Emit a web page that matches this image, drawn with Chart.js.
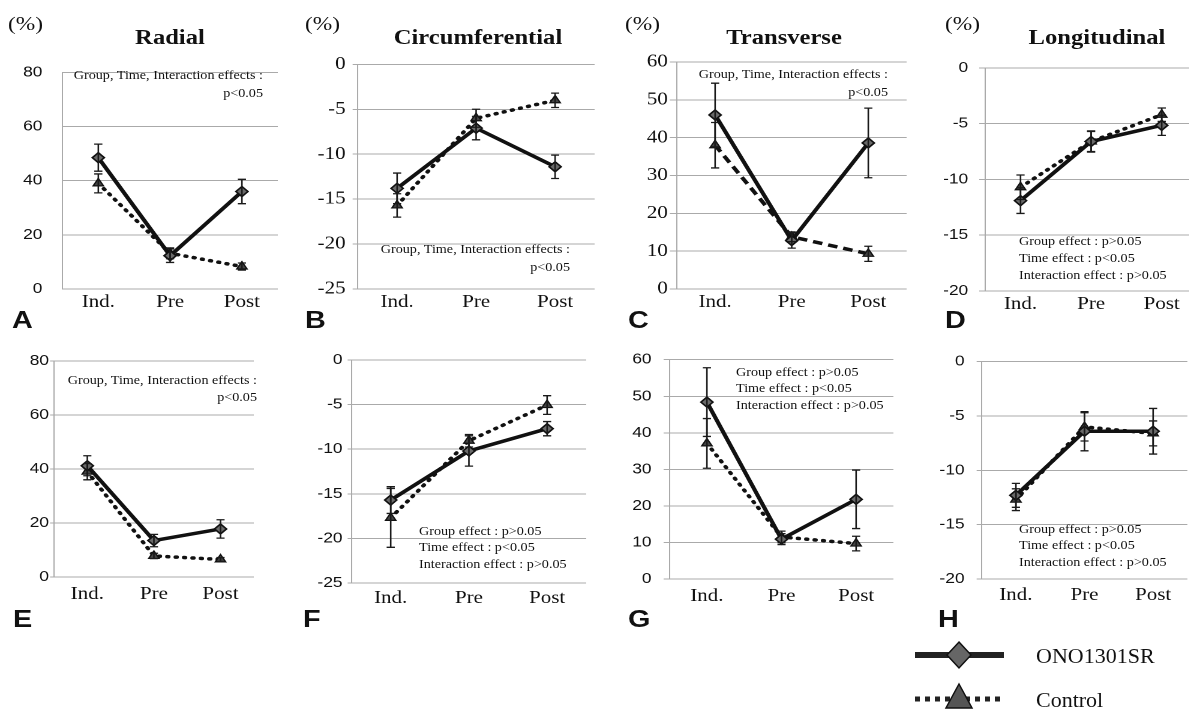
<!DOCTYPE html>
<html><head><meta charset="utf-8">
<script src="https://cdn.jsdelivr.net/npm/chart.js@4.4.1/dist/chart.umd.min.js"></script>
<style>
html,body{margin:0;padding:0;background:#fff;overflow:hidden;width:1189px;height:710px;position:relative;}
#stage{position:absolute;left:0;top:0;width:991px;height:710px;transform:scaleX(1.2);transform-origin:0 0;}
.t{position:absolute;white-space:pre;color:#111;font-family:"Liberation Serif","Times New Roman",serif;}
canvas{position:absolute;}
</style></head><body><div id="stage"></div>
<svg id="legendSvg" width="1189" height="710" style="position:absolute;left:0;top:0;pointer-events:none"></svg>
<script>
// ---------------- DATA ----------------
const categories = ['Ind.', 'Pre', 'Post'];

const radialTicks = [0, 20, 40, 60, 80];
const circTicks = [-25, -20, -15, -10, -5, 0];
const transTicks = [0, 10, 20, 30, 40, 50, 60];
const longTicks = [-20, -15, -10, -5, 0];

// A  Radial (upper)
const radialUpperOno = [48.5, 12.3, 36.0];
const radialUpperOnoErr = [5.0, 2.5, 4.5];
const radialUpperCtrl = [39.0, 13.2, 8.3];
const radialUpperCtrlErr = [3.5, 2.0, 1.3];
// B  Circumferential (upper)
const circUpperOno = [-13.8, -7.1, -11.4];
const circUpperOnoErr = [1.7, 1.3, 1.3];
const circUpperCtrl = [-15.7, -6.0, -4.0];
const circUpperCtrlErr = [1.3, 1.0, 0.8];
// C  Transverse (upper)
const transUpperOno = [46.0, 12.8, 38.6];
const transUpperOnoErr = [8.4, 2.0, 9.2];
const transUpperCtrl = [38.0, 13.8, 9.3];
const transUpperCtrlErr = [6.0, 1.3, 2.0];
// D  Longitudinal (upper)
const longUpperOno = [-11.9, -6.6, -5.15];
const longUpperOnoErr = [1.15, 0.95, 0.9];
const longUpperCtrl = [-10.7, -6.6, -4.2];
const longUpperCtrlErr = [1.1, 0.9, 0.6];
// E  Radial (lower)
const radialLowerOno = [41.2, 13.5, 17.8];
const radialLowerOnoErr = [3.7, 2.3, 3.4];
const radialLowerCtrl = [39.0, 7.8, 6.5];
const radialLowerCtrlErr = [3.0, 1.0, 0.7];
// F  Circumferential (lower)
const circLowerOno = [-15.7, -10.2, -7.7];
const circLowerOnoErr = [1.5, 1.7, 0.8];
const circLowerCtrl = [-17.7, -9.05, -5.05];
const circLowerCtrlErr = [3.3, 0.7, 1.05];
// G  Transverse (lower)
const transLowerOno = [48.4, 10.9, 21.8];
const transLowerOnoErr = [9.4, 1.5, 8.0];
const transLowerCtrl = [37.1, 11.5, 9.7];
const transLowerCtrlErr = [6.8, 1.6, 2.0];
// H  Longitudinal (lower)
const longLowerOno = [-12.3, -6.4, -6.4];
const longLowerOnoErr = [1.1, 1.8, 2.1];
const longLowerCtrl = [-12.7, -6.0, -6.6];
const longLowerCtrlErr = [1.0, 1.3, 1.15];

const seriesNames = ['ONO1301SR', 'Control'];
const titles = ['Radial', 'Circumferential', 'Transverse', 'Longitudinal'];
const panelLetters = ['A', 'B', 'C', 'D', 'E', 'F', 'G', 'H'];
const effectsAll = ['Group, Time, Interaction effects :', 'p<0.05'];
const effectsSplit = ['Group effect : p>0.05', 'Time effect : p<0.05', 'Interaction effect : p>0.05'];

// ---------------- LAYOUT ----------------
const S = 1.2;
const SANS = '"Liberation Sans", Arial, sans-serif';
const SERIF = '"Liberation Serif", "Times New Roman", serif';
const stage = document.getElementById('stage');

const errorBars = {
  id: 'errorBars',
  afterDatasetsDraw(chart) {
    const ctx = chart.ctx, ys = chart.scales.y;
    chart.data.datasets.forEach((ds, di) => {
      if (!ds.errors) return;
      const meta = chart.getDatasetMeta(di);
      ctx.save();
      ctx.strokeStyle = '#1a1a1a';
      ctx.lineWidth = 1.3;
      meta.data.forEach((pt, i) => {
        const v = ds.data[i], e = ds.errors[i];
        const y1 = ys.getPixelForValue(v + e), y2 = ys.getPixelForValue(v - e);
        const x = pt.x, c = 3.4;
        ctx.beginPath();
        ctx.moveTo(x, y1); ctx.lineTo(x, y2);
        ctx.moveTo(x - c, y1); ctx.lineTo(x + c, y1);
        ctx.moveTo(x - c, y2); ctx.lineTo(x + c, y2);
        ctx.stroke();
      });
      ctx.restore();
    });
  }
};

const panels = [
  {ono: radialUpperOno, onoErr: radialUpperOnoErr, ctrl: radialUpperCtrl, ctrlErr: radialUpperCtrlErr, ticks: radialTicks,
   rect: [62, 61, 280, 289], font: 'sans', ext: 0, pad: 20, xPad: 3, dash: 'dot'},
  {ono: circUpperOno, onoErr: circUpperOnoErr, ctrl: circUpperCtrl, ctrlErr: circUpperCtrlErr, ticks: circTicks,
   rect: [357, 62, 597, 289], font: 'serif', ext: 5, pad: 7, xPad: 3, dash: 'dot'},
  {ono: transUpperOno, onoErr: transUpperOnoErr, ctrl: transUpperCtrl, ctrlErr: transUpperCtrlErr, ticks: transTicks,
   rect: [677, 62, 910, 289], font: 'serif', ext: 7, pad: 2, xPad: 3, dash: 'dash'},
  {ono: longUpperOno, onoErr: longUpperOnoErr, ctrl: longUpperCtrl, ctrlErr: longUpperCtrlErr, ticks: longTicks,
   rect: [985, 64, 1200, 291], font: 'sans', ext: 6, pad: 11, xPad: 3, dash: 'dot'},
  {ono: radialLowerOno, onoErr: radialLowerOnoErr, ctrl: radialLowerCtrl, ctrlErr: radialLowerCtrlErr, ticks: radialTicks,
   rect: [54, 361, 257, 577], font: 'sans', ext: 4, pad: 1, xPad: 7, dash: 'dot'},
  {ono: circLowerOno, onoErr: circLowerOnoErr, ctrl: circLowerCtrl, ctrlErr: circLowerCtrlErr, ticks: circTicks,
   rect: [351, 360, 588, 583], font: 'sans', ext: 4, pad: 5, xPad: 5, dash: 'dot'},
  {ono: transLowerOno, onoErr: transLowerOnoErr, ctrl: transLowerCtrl, ctrlErr: transLowerCtrlErr, ticks: transTicks,
   rect: [670, 355, 897, 579], font: 'sans', ext: 6, pad: 12, xPad: 7, dash: 'dot'},
  {ono: longLowerOno, onoErr: longLowerOnoErr, ctrl: longLowerCtrl, ctrlErr: longLowerCtrlErr, ticks: longTicks,
   rect: [981, 357, 1190, 579], font: 'sans', ext: 5, pad: 12, xPad: 6, dash: 'dot'}
];

function makePanel(p) {
  const AX = 50, PT = 14, PR = 4, XB = 34;
  const l = p.rect[0] / S, t = p.rect[1], r = p.rect[2] / S, b = p.rect[3];
  const w = Math.round(r - l) + AX + PR, h = (b - t) + PT + XB;
  const cv = document.createElement('canvas');
  cv.width = w; cv.height = h;
  cv.style.left = (l - AX) + 'px'; cv.style.top = (t - PT) + 'px';
  cv.style.width = w + 'px'; cv.style.height = h + 'px';
  stage.appendChild(cv);
  const isDash = p.dash === 'dash';
  new Chart(cv, {
    type: 'line',
    data: {
      labels: categories,
      datasets: [
        {label: seriesNames[0], data: p.ono, errors: p.onoErr, borderColor: '#111', borderWidth: 3.5,
         pointStyle: 'rectRot', pointRadius: 5, pointBackgroundColor: '#6a6a6a', pointBorderColor: '#111',
         pointBorderWidth: 1.5, tension: 0},
        {label: seriesNames[1], data: p.ctrl, errors: p.ctrlErr, borderColor: '#111', borderWidth: 3.5,
         borderDash: isDash ? [8, 5] : [1, 6], borderCapStyle: isDash ? 'butt' : 'round',
         pointStyle: 'triangle', pointRadius: 5, pointBackgroundColor: '#444', pointBorderColor: '#111',
         pointBorderWidth: 1.2, tension: 0}
      ]
    },
    options: {
      responsive: false, animation: false, devicePixelRatio: 2,
      layout: {padding: {top: PT, right: PR, left: 0, bottom: 0}},
      plugins: {legend: {display: false}, tooltip: {enabled: false}},
      scales: {
        x: {type: 'category', offset: true,
            grid: {display: false, drawTicks: false}, border: {display: false},
            ticks: {color: '#111', font: {family: SERIF, size: 17.5}, padding: p.xPad, maxRotation: 0, autoSkip: false},
            afterFit: s => { s.height = XB; }},
        y: {min: p.ticks[0], max: p.ticks[p.ticks.length - 1],
            grid: {color: '#aaa', lineWidth: 1, drawTicks: p.ext > 0, tickLength: p.ext / S},
            border: {display: true, color: '#aaa', width: 1},
            ticks: {stepSize: p.ticks[1] - p.ticks[0], color: '#111',
                    font: p.font === 'serif' ? {family: SERIF, size: 17.5} : {family: SANS, size: 14.5},
                    padding: p.pad / S},
            afterFit: s => { s.width = AX; }}
      }
    },
    plugins: [errorBars]
  });
}
panels.forEach(makePanel);

// text helper (x in reference px, y = centre of first line)
function addText(txt, x, y, o) {
  const d = document.createElement('div');
  d.className = 't';
  const fs = o.size || 12, lh = o.lh || Math.round(fs * 1.3);
  d.style.fontSize = fs + 'px';
  d.style.lineHeight = lh + 'px';
  if (o.weight) d.style.fontWeight = o.weight;
  if (o.family) d.style.fontFamily = o.family;
  d.style.left = (x / S) + 'px';
  d.style.top = (y - lh / 2) + 'px';
  d.style.textAlign = o.align || 'left';
  if (o.align === 'right') d.style.transform = 'translateX(-100%)';
  if (o.align === 'center') d.style.transform = 'translateX(-50%)';
  d.textContent = txt;
  stage.appendChild(d);
}

// titles and unit labels
[[170, 37], [478, 37], [784, 37], [1097, 37]].forEach((pos, i) => {
  addText(titles[i], pos[0], pos[1], {size: 20.5, weight: 'bold', align: 'center', lh: 26});
});
[8, 305, 625, 945].forEach(x => addText('(%)', x, 24, {size: 19.5, lh: 24}));

// panel letters
const NARROW = '"Liberation Sans Narrow", "Arial Narrow", "Liberation Sans", Arial, sans-serif';
[[12, 320], [305, 320], [628, 320], [945, 320], [13, 619], [303, 619], [628, 619], [938, 619]].forEach((pos, i) => {
  addText(panelLetters[i], pos[0], pos[1], {size: 24, weight: 'bold', family: NARROW, lh: 28});
});

// statistics annotations
addText(effectsAll.join('\n'), 263, 75, {size: 11.8, lh: 18, align: 'right'});
addText(effectsAll.join('\n'), 570, 249, {size: 11.8, lh: 18, align: 'right'});
addText(effectsAll.join('\n'), 888, 74, {size: 11.8, lh: 18, align: 'right'});
addText(effectsSplit.join('\n'), 1019, 241, {size: 11.8, lh: 17});
addText(effectsAll.join('\n'), 257, 380, {size: 11.8, lh: 17, align: 'right'});
addText(effectsSplit.join('\n'), 419, 531, {size: 11.8, lh: 16.5});
addText(effectsSplit.join('\n'), 736, 372, {size: 11.8, lh: 16.5});
addText(effectsSplit.join('\n'), 1019, 529, {size: 11.8, lh: 16.5});

// legend (outside the stretched stage)
const svg = document.getElementById('legendSvg');
svg.innerHTML =
  '<line x1="915" y1="655" x2="1004" y2="655" stroke="#222" stroke-width="6"/>' +
  '<polygon points="959,642 971,655 959,668 947,655" fill="#666" stroke="#111" stroke-width="1.5"/>' +
  '<line x1="915" y1="699" x2="1003" y2="699" stroke="#222" stroke-width="5" stroke-dasharray="5 5"/>' +
  '<polygon points="959,684 972,708 946,708" fill="#555" stroke="#111" stroke-width="1.5"/>' +
  '<text x="1036" y="663" font-family="Liberation Serif, Times New Roman, serif" font-size="22" fill="#111">' + seriesNames[0] + '</text>' +
  '<text x="1036" y="707" font-family="Liberation Serif, Times New Roman, serif" font-size="22" fill="#111">' + seriesNames[1] + '</text>';
</script>
</body></html>
